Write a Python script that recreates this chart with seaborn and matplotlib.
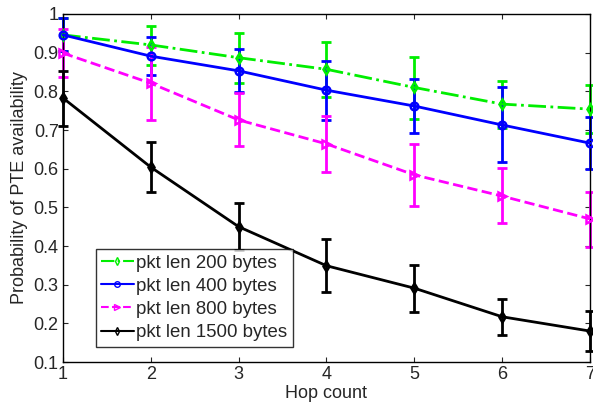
import matplotlib
matplotlib.use("Agg")
import matplotlib.pyplot as plt
import seaborn as sns
import pandas as pd
import numpy as np

hops = [1, 2, 3, 4, 5, 6, 7]

p200 = [0.946, 0.920, 0.887, 0.857, 0.810, 0.767, 0.754]
p200_lo = [0.905, 0.868, 0.822, 0.785, 0.728, 0.705, 0.692]
p200_hi = [0.990, 0.969, 0.951, 0.927, 0.889, 0.827, 0.816]

p400 = [0.946, 0.891, 0.853, 0.803, 0.762, 0.713, 0.666]
p400_lo = [0.905, 0.842, 0.799, 0.726, 0.692, 0.617, 0.599]
p400_hi = [0.990, 0.941, 0.909, 0.878, 0.832, 0.811, 0.733]

p800 = [0.899, 0.821, 0.726, 0.664, 0.584, 0.529, 0.470]
p800_lo = [0.838, 0.726, 0.659, 0.591, 0.503, 0.460, 0.398]
p800_hi = [0.961, 0.915, 0.795, 0.736, 0.663, 0.601, 0.540]

p1500 = [0.783, 0.604, 0.450, 0.349, 0.291, 0.217, 0.180]
p1500_lo = [0.710, 0.540, 0.390, 0.280, 0.230, 0.170, 0.128]
p1500_hi = [0.853, 0.669, 0.512, 0.418, 0.351, 0.264, 0.233]

labels = ["pkt len 200 bytes", "pkt len 400 bytes", "pkt len 800 bytes", "pkt len 1500 bytes"]

series = [
    (p200, p200_lo, p200_hi, "#00ee00", "-.", "d"),
    (p400, p400_lo, p400_hi, "#0000ff", "-", "o"),
    (p800, p800_lo, p800_hi, "#ff00ff", "--", ">"),
    (p1500, p1500_lo, p1500_hi, "#000000", "-", "d"),
]

sns.set_style("ticks")
plt.rcParams["font.family"] = ["Liberation Sans", "DejaVu Sans"]

FS = 13

fig = plt.figure(figsize=(5.93, 4.08), dpi=100)
ax = fig.add_axes([0.106, 0.1127, 0.889, 0.853])

for (vals, lo, hi, col, ls, mk), lab in zip(series, labels):
    df = pd.DataFrame({"hop": hops, "p": vals})
    yerr = [np.array(vals) - np.array(lo), np.array(hi) - np.array(vals)]
    ax.errorbar(hops, vals, yerr=yerr, fmt="none", ecolor=col, elinewidth=2,
                capsize=3.5, capthick=2, zorder=2, clip_on=False)
    sns.lineplot(data=df, x="hop", y="p", ax=ax, color=col, linestyle=ls,
                 linewidth=2, marker=mk, markersize=5.5, markerfacecolor="none",
                 markeredgecolor=col, markeredgewidth=1.8, label=lab,
                 zorder=3, clip_on=False)

ax.set_xlim(1, 7)
ax.set_ylim(0.1, 1.0)
ax.set_xticks(hops)
ax.set_xticklabels([str(h) for h in hops])
yt = [0.1, 0.2, 0.3, 0.4, 0.5, 0.6, 0.7, 0.8, 0.9, 1.0]
ax.set_yticks(yt)
ax.set_yticklabels(["0.1", "0.2", "0.3", "0.4", "0.5", "0.6", "0.7", "0.8", "0.9", "1"])
ax.tick_params(direction="in", top=True, right=True, length=3.6, width=0.8,
               labelsize=FS, pad=3)
for s in ax.spines.values():
    s.set_visible(True)
    s.set_linewidth(1.0)
    s.set_color("black")

ax.set_xlabel("Hop count", fontsize=FS, labelpad=1)
ax.set_ylabel("Probability of PTE availability", fontsize=FS, labelpad=4)

leg = ax.legend(loc="lower left", bbox_to_anchor=(0.062, 0.044), fontsize=13.4,
                frameon=True, fancybox=False, edgecolor="black",
                handlelength=1.75, handletextpad=0.15, borderpad=0.3,
                labelspacing=0.33, borderaxespad=0)
leg.get_frame().set_linewidth(1.0)
for h in leg.get_lines():
    h.set_linewidth(1.5)
    h.set_markersize(4)
    h.set_markeredgewidth(1.0)

fig.savefig("out.png", dpi=100)
